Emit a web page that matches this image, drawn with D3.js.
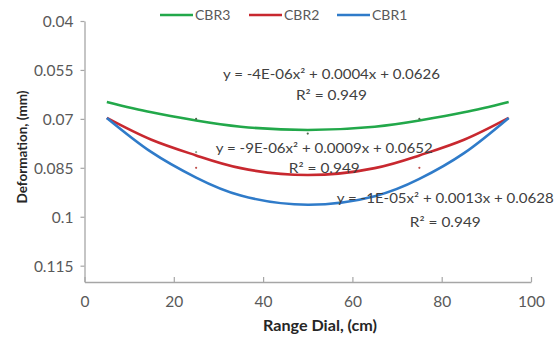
<!DOCTYPE html>
<html><head><meta charset="utf-8">
<script src="https://cdn.jsdelivr.net/npm/d3@7"></script>
<style>
html,body{margin:0;padding:0;background:#fff;}
svg{display:block;font-family:Lato,"Open Sans",sans-serif;}
</style></head>
<body>
<svg id="chart" width="560" height="337"></svg>
<script>
// ---- data ----
const xValues = [5, 15, 25, 35, 50, 65, 75, 85, 95];
const cbr3 = [0.0648, 0.0680, 0.0705, 0.0724, 0.0734, 0.0724, 0.0705, 0.0680, 0.0648];
const cbr2 = [0.0697, 0.0764, 0.0812, 0.0851, 0.0872, 0.0851, 0.0812, 0.0764, 0.0697];
const cbr1 = [0.0697, 0.0802, 0.0880, 0.0935, 0.0963, 0.0937, 0.0884, 0.0805, 0.0697];
const seriesNames = ["CBR3", "CBR2", "CBR1"];
const seriesColors = ["#22a84a", "#c8282f", "#2f7bc9"];
// small data markers visible in the picture
const markerX = [25, 50, 75, 25, 25, 75];
const markerY = [0.0700, 0.0745, 0.0700, 0.0802, 0.0850, 0.0850];
const markerCol = ["#4d6b4d", "#4d6b4d", "#4d6b4d", "#8fa88f", "#c0504d", "#c0504d"];
const xTicks = [0, 20, 40, 60, 80, 100];
const yTicks = [0.04, 0.055, 0.07, 0.085, 0.1, 0.115];
const equations = [
  {eq: "y = -4E-06x² + 0.0004x + 0.0626", r2: "R² = 0.949"},
  {eq: "y = -9E-06x² + 0.0009x + 0.0652", r2: "R² = 0.949"},
  {eq: "y = -1E-05x² + 0.0013x + 0.0628", r2: "R² = 0.949"}
];

const svg = d3.select("#chart");
const x = d3.scaleLinear().domain([0, 100]).range([84.5, 531]);
const y = d3.scaleLinear().domain([0.04, 0.12]).range([21, 282]);

// axes
const axisColor = "#a6a6a6";
const gx = svg.append("g").attr("transform", "translate(0,282)")
  .call(d3.axisBottom(x).tickValues(xTicks).tickSizeInner(-5).tickSizeOuter(0).tickPadding(14).tickFormat(d3.format("d")));
const gy = svg.append("g").attr("transform", "translate(84.5,0)")
  .call(d3.axisLeft(y).tickValues(yTicks).tickSizeInner(4).tickSizeOuter(0).tickPadding(7).tickFormat(d => String(d)));
[gx, gy].forEach(g => {
  g.select(".domain").attr("stroke", axisColor).attr("stroke-width", 1.3);
  g.selectAll(".tick line").attr("stroke", axisColor).attr("stroke-width", 1.2);
  g.selectAll(".tick text").attr("fill", "#595959").style("font-size", "15.5px")
    .style("font-family", "Lato, 'Open Sans', sans-serif");
});
gy.selectAll(".tick text").attr("dy", "0.35em");

// curves
const series = [cbr3, cbr2, cbr1];
const line = d3.line().x((d, i) => x(xValues[i])).y(d => y(d)).curve(d3.curveNatural);
series.forEach((s, k) => {
  svg.append("path").datum(s).attr("d", line)
    .attr("fill", "none").attr("stroke", seriesColors[k]).attr("stroke-width", 2.6);
});

// markers
svg.append("g").selectAll("circle").data(markerX).join("circle")
  .attr("cx", d => x(d)).attr("cy", (d, i) => y(markerY[i])).attr("r", 1.1)
  .attr("fill", (d, i) => markerCol[i]);

// trendline equations (anchored in data space)
const eqPos = [[55.3, 0.0578, 0.0642], [53.7, 0.0805, 0.0866], [80.8, 0.0958, 0.1031]];
const eqG = svg.append("g").style("font-size", "13.5px").attr("fill", "#404040");
equations.forEach((e, k) => {
  eqG.append("text").attr("x", x(eqPos[k][0])).attr("y", y(eqPos[k][1]))
    .attr("text-anchor", "middle").attr("textLength", 217).attr("lengthAdjust", "spacingAndGlyphs").text(e.eq);
  eqG.append("text").attr("x", x(eqPos[k][0])).attr("y", y(eqPos[k][2]))
    .attr("text-anchor", "middle").attr("textLength", 71).attr("lengthAdjust", "spacingAndGlyphs").text(e.r2);
});

// legend
const legX = [160, 249, 337];
const leg = svg.append("g");
seriesNames.forEach((n, k) => {
  leg.append("line").attr("x1", legX[k]).attr("x2", legX[k] + 33).attr("y1", 15).attr("y2", 15)
    .attr("stroke", seriesColors[k]).attr("stroke-width", 2.6);
  leg.append("text").attr("x", legX[k] + 35).attr("y", 20).attr("fill", "#595959")
    .style("font-size", "14px").text(n);
});

// axis titles
svg.append("text").attr("x", 320).attr("y", 331).attr("text-anchor", "middle")
  .attr("textLength", 114).attr("lengthAdjust", "spacingAndGlyphs")
  .style("font-weight", "bold").style("font-size", "15px").attr("fill", "#262626").text("Range Dial, (cm)");
svg.append("text").attr("transform", "translate(27,147) rotate(-90)").attr("text-anchor", "middle")
  .style("font-weight", "bold").style("font-size", "13.5px").attr("fill", "#262626").text("Deformation, (mm)");
</script>
</body></html>
